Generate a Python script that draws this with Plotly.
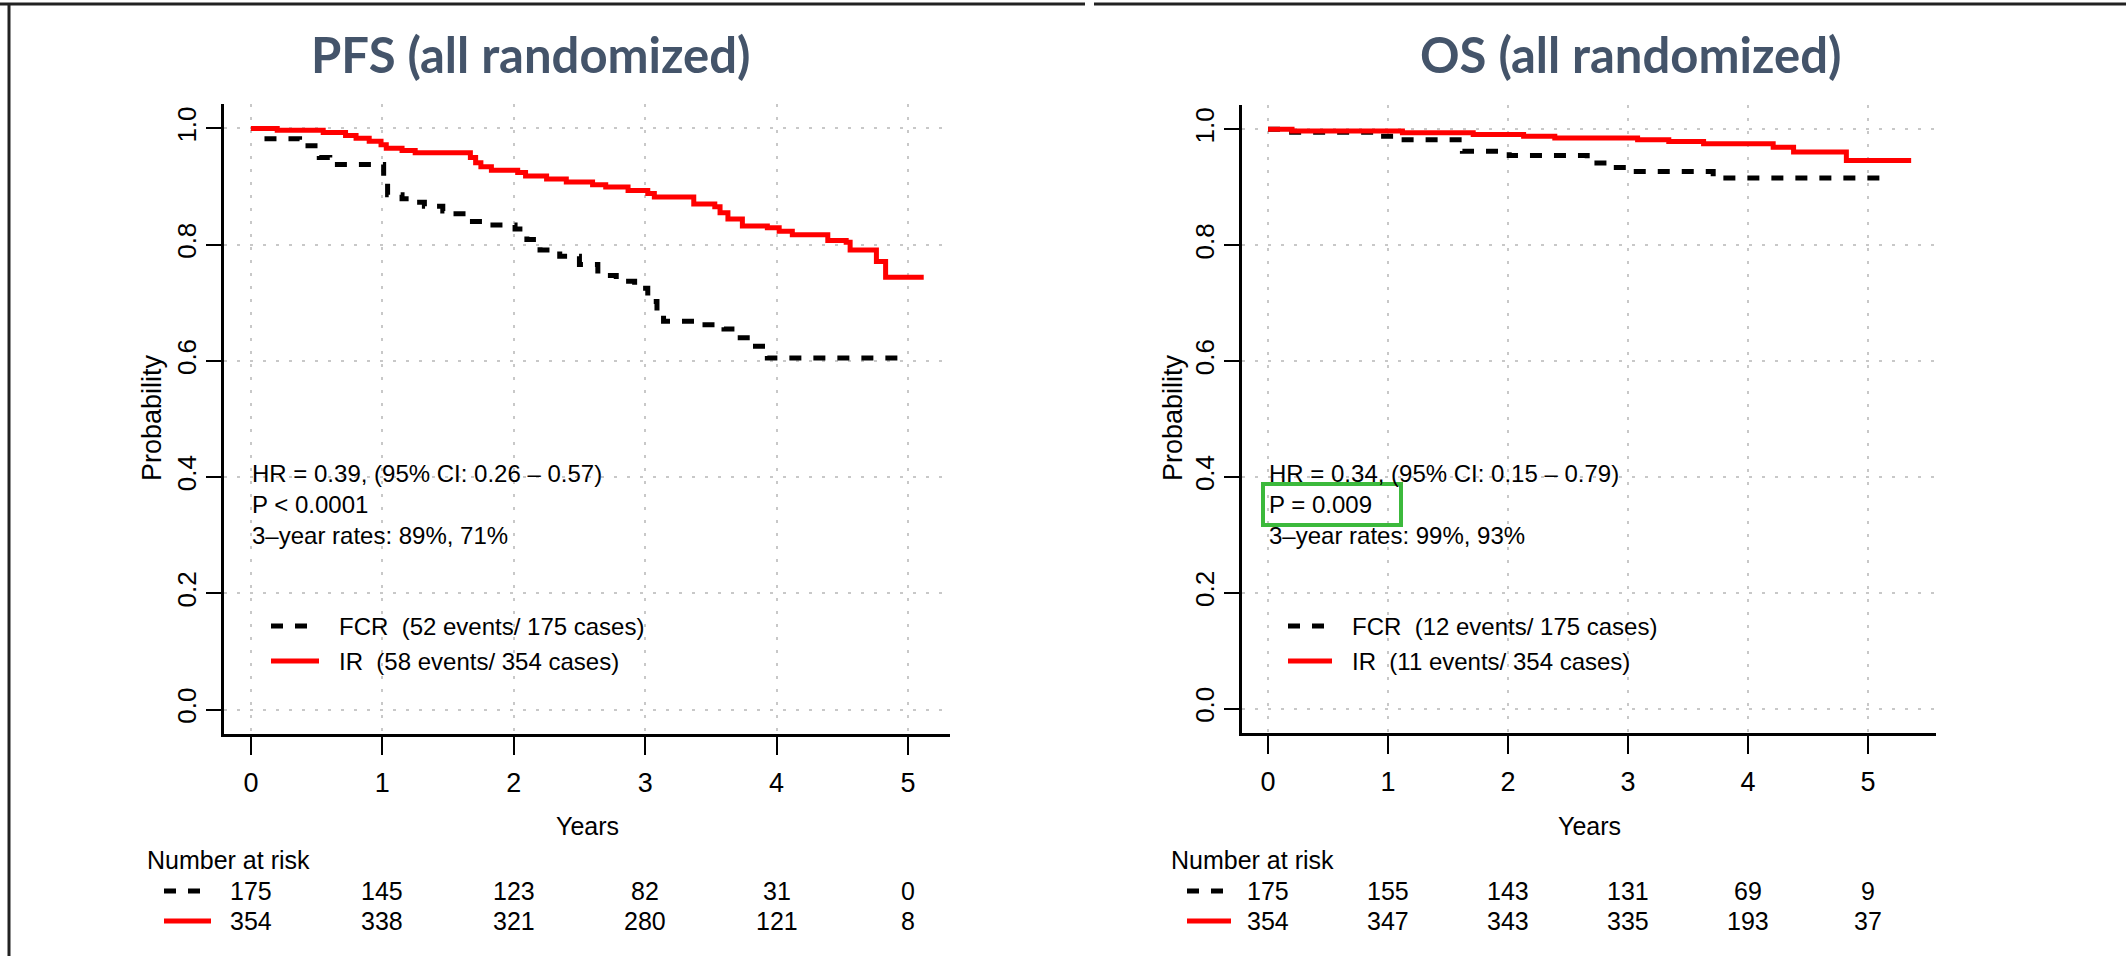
import plotly.graph_objects as go

W, H = 2126, 956

# ---- data -------------------------------------------------------------
years = [0, 1, 2, 3, 4, 5]
prob_ticks = [0.0, 0.2, 0.4, 0.6, 0.8, 1.0]
prob_labels = ["0.0", "0.2", "0.4", "0.6", "0.8", "1.0"]

# PFS Kaplan-Meier steps
pfs_fcr_t = [0, 0.10, 0.37, 0.52, 0.60, 1.01, 1.04, 1.15, 1.22, 1.32, 1.46, 1.53, 1.64, 1.80,
             2.01, 2.10, 2.20, 2.35, 2.50, 2.64, 2.78, 2.92, 3.02, 3.09, 3.14, 3.40, 3.60,
             3.70, 3.82, 3.93, 4.97]
pfs_fcr_s = [1.0, 0.982, 0.970, 0.950, 0.938, 0.905, 0.886, 0.879, 0.873, 0.866, 0.858, 0.853,
             0.840, 0.834, 0.827, 0.809, 0.791, 0.780, 0.766, 0.747, 0.737, 0.725, 0.702,
             0.680, 0.668, 0.662, 0.655, 0.640, 0.625, 0.605, 0.605]
pfs_ir_t = [0, 0.20, 0.55, 0.72, 0.80, 0.90, 0.99, 1.03, 1.15, 1.25, 1.67, 1.71, 1.75, 1.83,
            2.03, 2.09, 2.25, 2.40, 2.60, 2.70, 2.87, 3.02, 3.07, 3.37, 3.53, 3.57, 3.63,
            3.74, 3.93, 4.02, 4.12, 4.39, 4.53, 4.56, 4.76, 4.83, 5.12]
pfs_ir_s = [1.0, 0.997, 0.993, 0.988, 0.983, 0.978, 0.972, 0.966, 0.962, 0.958, 0.950, 0.941,
            0.934, 0.928, 0.924, 0.918, 0.913, 0.908, 0.903, 0.899, 0.893, 0.888, 0.882,
            0.870, 0.865, 0.855, 0.844, 0.832, 0.829, 0.823, 0.817, 0.807, 0.804, 0.791,
            0.771, 0.744, 0.744]

# OS Kaplan-Meier steps
os_fcr_t = [0, 0.17, 0.92, 1.11, 1.62, 2.01, 2.66, 2.85, 2.99, 3.71, 5.16]
os_fcr_s = [1.0, 0.995, 0.988, 0.982, 0.962, 0.955, 0.942, 0.934, 0.927, 0.916, 0.916]
os_ir_t = [0, 0.20, 1.12, 1.71, 2.13, 2.39, 3.08, 3.34, 3.63, 4.21, 4.38, 4.82, 5.36]
os_ir_s = [1.0, 0.997, 0.994, 0.991, 0.988, 0.985, 0.982, 0.979, 0.975, 0.969, 0.961,
           0.946, 0.946]

# numbers at risk
pfs_risk_fcr = [175, 145, 123, 82, 31, 0]
pfs_risk_ir = [354, 338, 321, 280, 121, 8]
os_risk_fcr = [175, 155, 143, 131, 69, 9]
os_risk_ir = [354, 347, 343, 335, 193, 37]

pfs_stats = ["HR = 0.39, (95% CI: 0.26 \u2013 0.57)", "P < 0.0001", "3\u2013year rates: 89%, 71%"]
os_stats = ["HR = 0.34, (95% CI: 0.15 \u2013 0.79)", "P = 0.009", "3\u2013year rates: 99%, 93%"]
pfs_legend = ["FCR\u00a0 (52 events/ 175 cases)", "IR\u00a0 (58 events/ 354 cases)"]
os_legend = ["FCR\u00a0 (12 events/ 175 cases)", "IR\u00a0 (11 events/ 354 cases)"]

# ---- styling ----------------------------------------------------------
REG = "Liberation Sans, Arial, sans-serif"
TXT = dict(family=REG, size=24, color="#000000")
TITLE_FONT = dict(family="Lato, Open Sans, sans-serif", size=49, color="#44546A")
BLACK = "#000000"
RED = "#FF0000"
DASH = "12px,12px"
GRID = dict(showgrid=True, gridcolor="#c8c8c8", gridwidth=2, griddash="3px,10px")


def px(x):
    return x / W


def py(y):
    return 1 - y / H


fig = go.Figure()

panels = [
    dict(xa="x", ya="y", xdom=(224, 950), ydom=(104, 734), xr=(-0.205, 5.32),
         fcr=(pfs_fcr_t, pfs_fcr_s), ir=(pfs_ir_t, pfs_ir_s),
         risk=(pfs_risk_fcr, pfs_risk_ir), stats=pfs_stats, legend=pfs_legend,
         title="PFS (all randomized)", title_xy=(531, 54), prob_x=152,
         leg_line=(271, 319), leg_text=337, risk_x=145, risk_line=(164, 211)),
    dict(xa="x2", ya="y2", xdom=(1242, 1936), ydom=(105, 733), xr=(-0.217, 5.567),
         fcr=(os_fcr_t, os_fcr_s), ir=(os_ir_t, os_ir_s),
         risk=(os_risk_fcr, os_risk_ir), stats=os_stats, legend=os_legend,
         title="OS (all randomized)", title_xy=(1630, 54), prob_x=1173,
         leg_line=(1288, 1332), leg_text=1350, risk_x=1169, risk_line=(1187, 1231)),
]

annotations = []
shapes = []

for i, p in enumerate(panels):
    sfx = "" if i == 0 else "2"
    xa_name, ya_name = "xaxis" + sfx, "yaxis" + sfx
    fcr_t, fcr_s = p["fcr"]
    ir_t, ir_s = p["ir"]
    fig.add_trace(go.Scatter(x=fcr_t, y=fcr_s, mode="lines", xaxis=p["xa"], yaxis=p["ya"],
                             line=dict(shape="hv", color=BLACK, width=5, dash=DASH),
                             showlegend=False, name="FCR"))
    fig.add_trace(go.Scatter(x=ir_t, y=ir_s, mode="lines", xaxis=p["xa"], yaxis=p["ya"],
                             line=dict(shape="hv", color=RED, width=5),
                             showlegend=False, name="IR"))

    fig.layout[xa_name] = dict(
        domain=[px(p["xdom"][0]), px(p["xdom"][1])], range=list(p["xr"]),
        anchor=p["ya"], tickvals=years, ticktext=[str(v) for v in years],
        ticks="outside", ticklen=18, tickwidth=2, tickcolor=BLACK,
        showline=True, linewidth=3, linecolor=BLACK, zeroline=False,
        tickfont=dict(family=REG, size=27, color=BLACK), ticklabelstandoff=5,
        fixedrange=True, **GRID)
    fig.layout[ya_name] = dict(
        domain=[py(p["ydom"][1]), py(p["ydom"][0])], range=[-0.042, 1.042],
        anchor=p["xa"], tickvals=prob_ticks, ticktext=prob_labels, tickangle=-90,
        ticks="outside", ticklen=15, tickwidth=2, tickcolor=BLACK,
        showline=True, linewidth=3, linecolor=BLACK, zeroline=False,
        tickfont=dict(family=REG, size=26, color=BLACK), ticklabelstandoff=0,
        fixedrange=True, **GRID)

    # panel title
    annotations.append(dict(text="<b>%s</b>" % p["title"], xref="paper", yref="paper",
                            x=px(p["title_xy"][0]), y=py(p["title_xy"][1]),
                            xanchor="center", yanchor="middle", showarrow=False,
                            font=TITLE_FONT))
    # axis titles
    annotations.append(dict(text="Probability", xref="paper", yref="paper",
                            x=px(p["prob_x"]), y=py(418), textangle=-90,
                            xanchor="center", yanchor="middle", showarrow=False,
                            font=dict(family=REG, size=27, color=BLACK)))
    annotations.append(dict(text="Years", xref=p["xa"] + " domain", yref="paper",
                            x=0.5, y=py(826), xanchor="center", yanchor="middle",
                            showarrow=False, font=dict(family=REG, size=25, color=BLACK)))

    # statistics text block
    annotations.append(dict(text="<br>".join(p["stats"]), xref=p["xa"], yref="paper",
                            x=0, y=py(459), xanchor="left", yanchor="top", align="left",
                            showarrow=False, font=TXT, borderpad=0))

    # in-plot legend
    for (txt, col, dash), yy in zip(
            [(p["legend"][0], BLACK, DASH), (p["legend"][1], RED, "solid")], [626, 661]):
        shapes.append(dict(type="line", xref="paper", yref="paper",
                           x0=px(p["leg_line"][0]), x1=px(p["leg_line"][1]),
                           y0=py(yy), y1=py(yy), line=dict(color=col, width=5, dash=dash)))
        annotations.append(dict(text=txt, xref="paper", yref="paper",
                                x=px(p["leg_text"]), y=py(yy), xanchor="left",
                                yanchor="middle", showarrow=False, font=TXT))

    # number-at-risk table
    annotations.append(dict(text="Number at risk", xref="paper", yref="paper",
                            x=px(p["risk_x"]), y=py(860), xanchor="left", yanchor="middle",
                            showarrow=False, font=dict(family=REG, size=25, color=BLACK)))
    for counts, col, dash, yy in zip(p["risk"], [BLACK, RED], [DASH, "solid"], [891, 921]):
        shapes.append(dict(type="line", xref="paper", yref="paper",
                           x0=px(p["risk_line"][0]), x1=px(p["risk_line"][1]),
                           y0=py(yy), y1=py(yy), line=dict(color=col, width=5, dash=dash)))
        for yr, n in zip(years, counts):
            annotations.append(dict(text=str(n), xref=p["xa"], yref="paper", x=yr,
                                    y=py(yy), xanchor="center", yanchor="middle",
                                    showarrow=False,
                                    font=dict(family=REG, size=25, color=BLACK)))

# highlight box around the OS p-value
shapes.append(dict(type="rect", xref="paper", yref="paper", x0=px(1263), x1=px(1401),
                   y0=py(525), y1=py(484), line=dict(color="#3cb93c", width=4),
                   fillcolor="rgba(0,0,0,0)", layer="above"))

# slide frame lines
for x0, x1 in [(0, 1085), (1094, 2126)]:
    shapes.append(dict(type="line", xref="paper", yref="paper", x0=px(x0), x1=px(x1),
                       y0=py(4), y1=py(4), line=dict(color="#222222", width=3)))
shapes.append(dict(type="line", xref="paper", yref="paper", x0=px(9), x1=px(9),
                   y0=py(4), y1=py(956), line=dict(color="#222222", width=3)))

fig.update_layout(width=W, height=H, autosize=False,
                  margin=dict(l=0, r=0, t=0, b=0, pad=0),
                  paper_bgcolor="white", plot_bgcolor="white",
                  showlegend=False, annotations=annotations, shapes=shapes)

fig.write_html("out.html")
